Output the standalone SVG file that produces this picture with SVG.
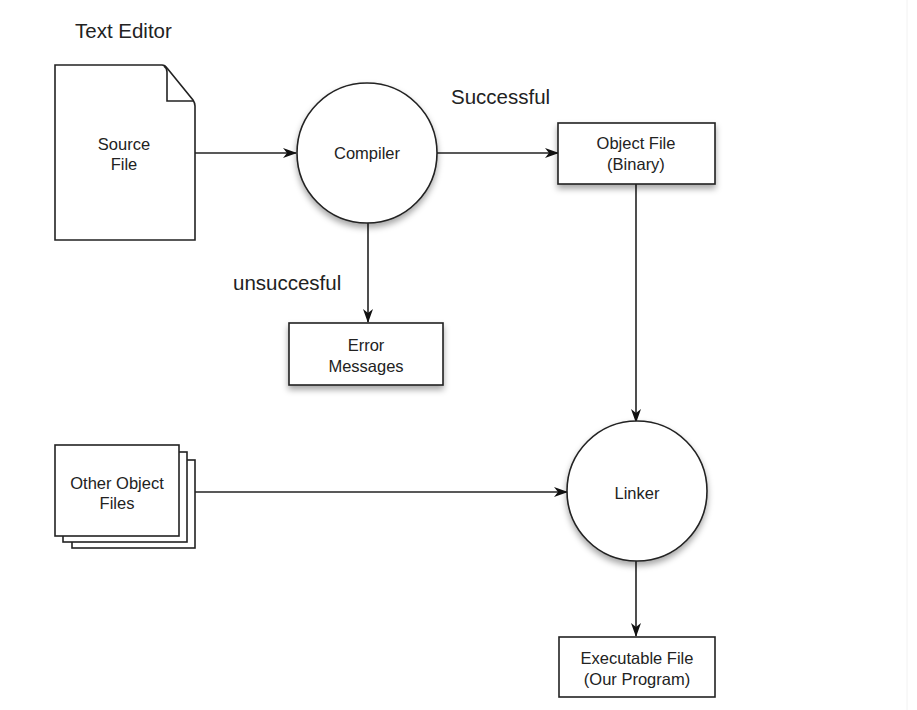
<svg xmlns="http://www.w3.org/2000/svg" width="917" height="710" viewBox="0 0 917 710">
<style>
.shape{fill:#fff;stroke:#222;stroke-width:1.6}
.edge{fill:none;stroke:#222;stroke-width:1.6}
.t{font-family:"Liberation Sans",Arial,sans-serif;font-size:16.5px;fill:#222;text-anchor:middle}
.lbl{font-family:"Liberation Sans",Arial,sans-serif;font-size:20.5px;fill:#222}
</style>
<defs>
<marker id="arr" viewBox="0 0 14 10" refX="13" refY="5" markerWidth="14" markerHeight="10" markerUnits="userSpaceOnUse" orient="auto">
<path d="M0,0 L14,5 L0,10 L4,5 z" fill="#111"/>
</marker>
<filter id="sh" x="-20%" y="-20%" width="140%" height="150%">
<feDropShadow dx="0" dy="4" stdDeviation="3" flood-color="#000" flood-opacity="0.35"/>
</filter>
</defs>
<rect width="917" height="710" fill="#fff"/>
<line x1="907" y1="0" x2="907" y2="710" stroke="#f2f2f2" stroke-width="1"/>
<text class="lbl" x="75" y="38">Text Editor</text>
<text class="lbl" x="451" y="104">Successful</text>
<text class="lbl" x="233" y="290">unsuccesful</text>
<g id="connectors">
<line class="edge" x1="195" y1="153" x2="296" y2="153" marker-end="url(#arr)"/>
<line class="edge" x1="437" y1="153" x2="558" y2="153" marker-end="url(#arr)"/>
<line class="edge" x1="368" y1="223" x2="368" y2="322" marker-end="url(#arr)"/>
<line class="edge" x1="636" y1="184" x2="636" y2="422" marker-end="url(#arr)"/>
<line class="edge" x1="195" y1="492" x2="567" y2="492" marker-end="url(#arr)"/>
<line class="edge" x1="636" y1="561" x2="636" y2="636" marker-end="url(#arr)"/>
</g>
<g id="source-file">
<path class="shape" d="M55,65 L162,65 Q165,65 167,68 L193,100 Q195,103 195,106 L195,240 L55,240 Z"/>
<path class="edge" d="M164,66 Q167,68 167,72 L167,101 L193,101"/>
<text class="t" x="124" y="150">Source</text>
<text class="t" x="124" y="170">File</text>
</g>
<g id="compiler">
<circle class="shape" cx="367" cy="153" r="70" filter="url(#sh)"/>
<text class="t" x="367" y="159">Compiler</text>
</g>
<g id="object-file">
<rect class="shape" x="558" y="123" width="157" height="61" filter="url(#sh)"/>
<text class="t" x="636" y="149">Object File</text>
<text class="t" x="636" y="170">(Binary)</text>
</g>
<g id="error-messages">
<rect class="shape" x="289" y="323" width="154" height="62" filter="url(#sh)"/>
<text class="t" x="366" y="351">Error</text>
<text class="t" x="366" y="372">Messages</text>
</g>
<g id="other-object-files">
<rect class="shape" x="72" y="460" width="123" height="88"/>
<rect class="shape" x="63" y="452" width="124" height="90"/>
<rect class="shape" x="55" y="445" width="124" height="91"/>
<text class="t" x="117" y="489">Other Object</text>
<text class="t" x="117" y="509">Files</text>
</g>
<g id="linker">
<circle class="shape" cx="637" cy="491" r="70" filter="url(#sh)"/>
<text class="t" x="637" y="499">Linker</text>
</g>
<g id="executable-file">
<rect class="shape" x="559" y="637" width="156" height="60"/>
<text class="t" x="637" y="664">Executable File</text>
<text class="t" x="637" y="685">(Our Program)</text>
</g>
</svg>
